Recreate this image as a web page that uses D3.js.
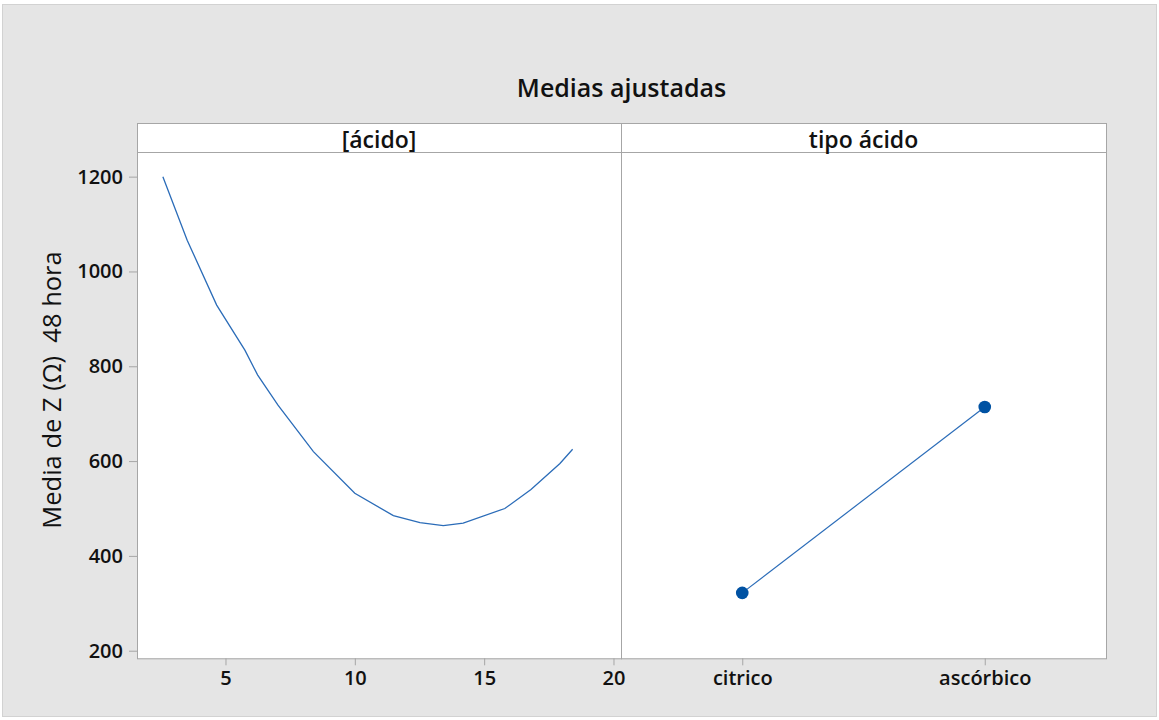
<!DOCTYPE html>
<html>
<head>
<meta charset="utf-8">
<script src="https://cdn.jsdelivr.net/npm/d3@7"></script>
<style>
  html, body { margin: 0; padding: 0; background: #ffffff; }
  svg { display: block; font-family: "Open Sans", "Noto Sans", sans-serif; }
</style>
</head>
<body>
<svg id="chart" width="1159" height="720"></svg>
<script>
// Fitted means of impedance at 48 h versus acid concentration
const concentration = [2.58, 3.52, 4.66, 5.75, 6.24, 7.03, 8.40, 10.0, 11.49, 12.52, 13.42, 14.19, 15.8, 16.81, 17.93, 18.42];
const meanByConcentration = [1200, 1066, 929, 834, 782, 718, 620, 532, 485, 470, 464, 469, 500, 540, 595, 625];

// Fitted means by acid type
const acidTypes = ["citrico", "ascórbico"];
const meanByType = [322, 714];

const yTicks = [200, 400, 600, 800, 1000, 1200];
const xTicks = [5, 10, 15, 20];
const panelTitles = ["[ácido]", "tipo ácido"];
const chartTitle = "Medias ajustadas";
const yTitle = "Media de Z (Ω)  48 hora";

const svg = d3.select("#chart");
const W = 1159, H = 720;

// frame geometry
const frame = { left: 137, mid: 621, right: 1106, top: 123, strip: 152, bottom: 658.3 };

const lineColor = "#2b6cb8";
const markerColor = "#0052a3";
const frameColor = "#a6a6a6";

// outer background
svg.append("rect")
  .attr("x", 2.5).attr("y", 4.5)
  .attr("width", W - 5).attr("height", H - 8)
  .attr("fill", "#e5e5e5")
  .attr("stroke", "#d2d2d2");

// white plotting area
svg.append("rect")
  .attr("x", frame.left).attr("y", frame.top)
  .attr("width", frame.right - frame.left).attr("height", frame.bottom - frame.top)
  .attr("fill", "#ffffff");

const y = d3.scaleLinear().domain([184, 1252]).range([frame.bottom, frame.strip]);
const x = d3.scaleLinear().domain([1.58, 20.29]).range([frame.left, frame.mid]);
const xCat = d3.scalePoint().domain(acidTypes).range([frame.mid, frame.right]).padding(0.5);

function styleTicks(g) {
  g.select(".domain").remove();
  g.selectAll(".tick line").attr("stroke", frameColor);
  g.selectAll(".tick text")
    .attr("fill", "#111").style("font-size", "20px").style("font-weight", 600)
    .style("font-family", "'Open Sans', sans-serif");
}

// y axis
svg.append("g")
  .attr("transform", `translate(${frame.left},0)`)
  .call(d3.axisLeft(y).tickValues(yTicks).tickSize(8).tickPadding(6).tickFormat(d3.format("d")))
  .call(styleTicks);

// x axis, concentration panel
svg.append("g")
  .attr("transform", `translate(0,${frame.bottom})`)
  .call(d3.axisBottom(x).tickValues(xTicks).tickSize(7).tickPadding(6).tickFormat(d3.format("d")))
  .call(styleTicks);

// x axis, acid type panel
svg.append("g")
  .attr("transform", `translate(0,${frame.bottom})`)
  .call(d3.axisBottom(xCat).tickSize(7).tickPadding(6))
  .call(styleTicks);

// panel frames and strips
const panels = [[frame.left, frame.mid], [frame.mid, frame.right]];
panels.forEach(([a, b], i) => {
  svg.append("rect")
    .attr("x", a + 0.5).attr("y", frame.top + 0.5)
    .attr("width", b - a).attr("height", frame.bottom - frame.top)
    .attr("fill", "none").attr("stroke", frameColor);
  svg.append("line")
    .attr("x1", a).attr("x2", b)
    .attr("y1", frame.strip + 0.5).attr("y2", frame.strip + 0.5)
    .attr("stroke", frameColor);
  svg.append("text")
    .attr("x", (a + b) / 2).attr("y", (frame.top + frame.strip) / 2 + 1)
    .attr("text-anchor", "middle").attr("dominant-baseline", "central")
    .style("font-size", "23px").style("font-weight", 600).attr("fill", "#111")
    .text(panelTitles[i]);
});

// concentration curve
const curve = d3.line().x(d => x(d[0])).y(d => y(d[1]));
svg.append("path")
  .datum(concentration.map((c, i) => [c, meanByConcentration[i]]))
  .attr("d", curve)
  .attr("fill", "none").attr("stroke", lineColor).attr("stroke-width", 1.3);

// acid type means
const typeData = acidTypes.map((t, i) => [t, meanByType[i]]);
svg.append("path")
  .datum(typeData)
  .attr("d", d3.line().x(d => xCat(d[0])).y(d => y(d[1])))
  .attr("fill", "none").attr("stroke", lineColor).attr("stroke-width", 1.2);
svg.selectAll("circle.mean")
  .data(typeData).enter().append("circle")
  .attr("class", "mean")
  .attr("cx", d => xCat(d[0])).attr("cy", d => y(d[1]))
  .attr("r", 6.3).attr("fill", markerColor);

// titles
svg.append("text")
  .attr("x", (frame.left + frame.right) / 2).attr("y", 97)
  .attr("text-anchor", "middle")
  .style("font-size", "25px").style("font-weight", 600).attr("fill", "#111")
  .text(chartTitle);

svg.append("text")
  .attr("transform", `translate(61,390) rotate(-90)`)
  .attr("text-anchor", "middle")
  .style("white-space", "pre")
  .style("font-size", "25.5px").attr("fill", "#111")
  .text(yTitle);
</script>
</body>
</html>
